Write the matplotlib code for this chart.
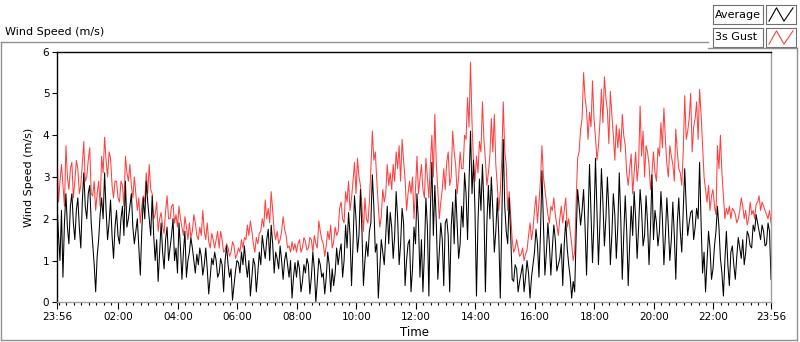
import numpy as np
import matplotlib.pyplot as plt
from matplotlib.lines import Line2D

# readings in minutes after 23:56: one set every 6 min (t = 0, 6, ...),
# a second set between them (t = 3, 9, ...)

# 3s gust (red)
gust_6min = [
    3.5, 2.9, 2.8, 3.75, 2.7, 3.35, 2.9, 3.2, 2.8, 3.85, 3.0, 3.7, 2.55, 2.2, 2.9, 3.5, 3.95, 3.0, 3.45, 2.5,
    2.9, 2.4, 2.8, 3.5, 2.9, 2.8, 3.0, 2.2, 1.9, 2.55, 3.1, 3.3, 2.6, 2.1, 1.7, 2.15, 1.65, 2.55, 2.0, 2.35,
    2.1,
    2.3, 1.8, 2.05, 1.5, 1.55, 2.1, 1.6, 1.8, 2.2, 1.5, 1.45, 1.65, 1.3, 1.7, 1.7, 1.2, 1.4, 1.1, 1.45, 1.05,
    1.3, 1.5, 1.55, 1.85, 1.95, 1.4, 1.55, 1.65, 2.0, 2.45, 2.25, 2.65, 1.7, 1.7, 1.5, 2.05, 1.6, 1.35, 1.45, 1.4,
    1.4, 1.2, 1.55, 1.25, 1.55, 1.2, 1.4, 1.95, 1.5, 1.1, 1.7, 1.85, 1.45, 1.6, 2.25, 2.0, 2.65, 2.9, 2.5, 3.35,
    3.45, 2.8, 1.7, 2.0, 2.4, 4.1, 3.6, 2.3, 2.05, 2.4, 3.3, 3.1, 3.3, 3.6, 3.75, 3.9, 2.95, 2.6, 2.6, 2.0,
    3.5, 2.95, 2.7, 3.45, 2.5, 4.0, 4.5, 2.7, 2.4, 3.2, 3.35, 2.8, 4.1, 3.3, 3.0, 3.2, 4.0, 4.9, 5.75, 3.35,
    3.5, 3.85, 4.8, 3.4, 3.1, 4.4, 4.5, 2.8, 2.65, 4.8, 3.3, 2.65, 1.5, 1.3, 1.3, 1.15, 1.0, 1.25, 1.9, 1.75,
    2.55, 2.4, 3.75, 2.7, 2.1, 2.3, 2.5, 1.85, 2.0, 1.9, 2.5, 2.0, 1.4, 1.2, 3.45, 4.15, 5.5, 4.6, 4.55, 5.3,
    3.95, 3.75, 5.1, 5.4, 4.6, 5.05, 4.0, 4.25, 4.15, 4.5, 3.75, 2.8, 3.55, 3.1, 2.9, 4.7, 4.1, 3.75, 3.3, 3.1,
    3.1, 3.7, 4.3, 4.65, 3.3, 3.75, 3.3, 4.15, 3.2, 2.8, 4.95, 4.1, 5.0, 4.2, 4.8, 5.1, 3.75, 2.7, 2.8, 2.55,
    2.3, 3.75, 4.0, 2.55, 2.25, 2.3, 2.25, 2.1, 2.0, 2.5, 2.0, 1.85, 2.4, 2.2, 2.35, 2.55, 2.4, 2.2, 2.0, 1.9,
]
gust_mid = [
    2.4, 3.3, 2.3, 3.0, 3.2, 2.5, 3.4, 2.6, 3.3, 2.9, 3.4, 2.6, 2.9, 2.6, 2.3, 3.1, 3.4, 3.6, 2.8, 2.9,
    2.5, 2.9, 2.3, 3.1, 3.3, 2.5, 2.6, 2.5, 2.3, 2.4, 2.6, 2.7, 2.0, 2.4, 2.0, 1.8, 2.2, 2.0, 2.3, 1.9,
    1.8, 2.0, 1.6, 1.8, 1.9, 1.7, 1.9, 1.5, 1.6, 1.7, 1.9, 1.3, 1.5, 1.5, 1.3, 1.5, 1.25, 1.3, 1.2, 1.35,
    1.15, 1.2, 1.3, 1.5, 1.6, 1.7, 1.2, 1.4, 1.7, 1.8, 2.0, 1.9, 2.2, 1.5, 1.4, 1.7, 1.75, 1.3, 1.2, 1.25,
    1.2, 1.5, 1.3, 1.45, 1.3, 1.5, 1.6, 1.3, 1.7, 1.4, 1.35, 1.5, 1.3, 1.8, 1.7, 2.4, 1.9, 2.4, 2.2, 2.9,
    2.6, 3.0, 2.3, 2.5, 1.9, 3.2, 3.4, 2.9, 1.8, 2.7, 2.6, 2.8, 2.7, 2.9, 3.2, 2.9, 3.4, 2.2, 2.9, 3.0,
    2.7, 2.6, 3.3, 2.5, 3.0, 3.3, 3.0, 3.3, 2.0, 2.7, 2.7, 3.6, 3.0, 3.6, 2.6, 3.6, 3.2, 3.9, 4.2, 4.3,
    2.9, 3.1, 3.6, 3.9, 2.8, 3.5, 3.6, 3.3, 2.2, 3.4, 3.6, 2.2, 2.1, 1.2, 1.5, 1.1, 1.3, 1.15, 1.6, 1.5,
    2.2, 1.9, 2.9, 3.0, 2.4, 1.9, 2.2, 2.1, 1.6, 2.3, 2.2, 1.8, 1.7, 1.0, 2.4, 3.6, 4.4, 4.9, 3.9, 4.2,
    4.4, 3.4, 4.3, 4.3, 4.9, 3.8, 4.5, 3.4, 3.7, 3.6, 4.0, 3.1, 3.2, 2.6, 3.6, 3.3, 3.5, 3.0, 3.6, 2.7,
    3.6, 2.9, 3.5, 3.7, 3.9, 3.0, 3.5, 2.9, 3.6, 3.1, 3.6, 3.9, 4.4, 3.6, 4.4, 3.9, 4.5, 3.0, 2.4, 2.2,
    2.7, 2.1, 3.2, 3.1, 2.0, 2.1, 2.0, 2.2, 1.9, 2.2, 2.3, 2.2, 2.0, 2.1, 2.0, 2.4, 2.2, 2.3, 2.1, 2.2,
]

# average (black)
average_6min = [
    2.4, 1.0, 0.6, 2.6, 1.4, 2.6, 1.5, 2.5, 1.3, 3.1, 2.0, 2.8, 1.4, 0.25, 1.5, 2.5, 3.1, 1.5, 2.45, 1.05,
    2.2, 1.4, 2.3, 2.9, 2.0, 2.6, 1.4, 2.0, 0.65, 2.5, 2.9, 2.0, 2.55, 1.0, 0.5, 1.9, 0.8, 1.8, 1.3, 2.0,
    1.3,
    1.9, 0.55, 1.7, 1.0, 1.55, 1.0, 1.15, 1.3, 0.65, 1.3, 0.2, 1.05, 1.2, 0.6, 1.05, 0.25, 1.35, 0.6, 0.05, 0.75,
    0.95, 1.2, 1.35, 0.6, 0.15, 1.05, 0.25, 1.2, 1.6, 1.05, 1.75, 1.85, 0.7, 1.05, 1.35, 0.55, 1.2, 0.6, 0.1, 0.95,
    1.0, 0.25, 0.9, 1.05, 0.2, 1.2, 0.0, 1.05, 0.6, 0.2, 1.2, 0.25, 0.4, 1.3, 1.2, 0.6, 1.85, 2.15, 0.4, 2.55,
    1.2, 2.7, 0.4, 1.45, 1.7, 3.05, 1.2, 0.1, 1.5, 0.9, 2.3, 2.15, 1.05, 2.65, 0.9, 2.25, 0.4, 1.4, 0.25, 1.8,
    2.6, 0.6, 0.25, 2.5, 0.15, 3.35, 2.8, 0.55, 1.9, 0.4, 2.0, 0.25, 2.4, 2.7, 1.05, 2.3, 3.1, 1.5, 4.1, 3.4,
    0.15, 2.95, 3.3, 0.25, 2.8, 3.0, 1.2, 2.5, 0.1, 3.9, 1.7, 2.5, 0.55, 0.9, 0.25, 0.7, 0.25, 1.0, 0.1, 0.9,
    1.75, 0.6, 3.15, 0.65, 1.9, 0.65, 1.85, 0.75, 1.05, 0.4, 1.95, 0.9, 0.1, 0.25, 2.7, 1.85, 2.7, 0.65, 3.3, 0.95,
    3.45, 0.9, 3.2, 1.35, 3.0, 0.9, 2.6, 1.05, 3.1, 0.55, 2.55, 0.4, 2.3, 2.65, 1.05, 2.7, 1.35, 2.55, 0.9, 3.05,
    2.2, 1.35, 2.65, 0.9, 2.5, 1.0, 2.4, 0.55, 2.5, 1.2, 3.2, 1.6, 2.15, 1.5, 2.25, 3.35, 0.7, 0.25, 1.7, 0.55,
    1.35, 2.3, 1.05, 0.15, 1.7, 0.4, 1.35, 0.55, 1.55, 1.05, 0.9, 1.7, 1.35, 1.85, 2.1, 1.7, 1.85, 1.35, 1.9, 0.55,
]
average_mid = [
    1.6, 2.2, 1.9, 1.8, 2.3, 1.9, 2.2, 1.8, 2.4, 2.3, 2.6, 1.9, 0.9, 1.1, 2.1, 2.0, 2.2, 1.9, 1.6, 1.8,
    1.6, 2.0, 1.6, 1.8, 2.3, 1.8, 1.7, 1.3, 1.7, 2.0, 2.4, 1.6, 1.6, 1.5, 1.2, 1.2, 1.5, 1.0, 1.6, 1.0,
    0.7, 1.3, 1.2, 0.6, 1.2, 1.3, 0.7, 0.9, 1.1, 0.9, 0.8, 0.6, 0.9, 1.0, 0.7, 0.9, 1.0, 0.9, 0.8, 0.4,
    1.0, 0.7, 0.9, 0.9, 1.0, 0.6, 0.9, 0.7, 0.9, 1.3, 1.5, 1.0, 1.4, 1.2, 0.8, 1.0, 1.0, 0.9, 1.0, 0.6,
    0.6, 0.8, 0.5, 0.7, 0.9, 0.6, 0.8, 0.5, 0.9, 0.7, 0.6, 0.9, 0.8, 0.7, 0.9, 1.4, 1.0, 1.3, 1.6, 1.4,
    2.0, 1.6, 1.7, 1.0, 1.1, 1.9, 2.3, 1.4, 0.8, 1.2, 1.6, 1.4, 1.8, 1.6, 2.0, 1.4, 1.9, 1.0, 1.5, 0.8,
    1.4, 1.9, 1.5, 1.2, 1.8, 2.2, 1.6, 1.9, 1.2, 1.5, 1.9, 1.6, 1.8, 1.4, 1.9, 1.4, 1.8, 2.6, 2.9, 2.6,
    2.2, 1.9, 2.2, 2.3, 1.9, 2.0, 2.2, 1.7, 1.6, 1.9, 2.3, 1.4, 1.6, 0.5, 0.8, 0.5, 0.9, 0.6, 0.7, 0.6,
    1.2, 1.4, 1.6, 1.9, 1.2, 1.4, 1.3, 1.5, 0.9, 1.4, 1.4, 1.3, 0.6, 0.5, 1.6, 2.3, 2.2, 1.8, 2.0, 2.1,
    1.9, 2.2, 1.9, 2.4, 2.0, 2.2, 1.6, 2.1, 1.8, 2.0, 1.6, 1.7, 1.4, 1.6, 2.0, 1.8, 2.2, 1.6, 1.9, 1.8,
    1.5, 1.9, 1.7, 2.0, 1.6, 1.8, 1.5, 1.6, 1.9, 1.7, 2.2, 2.3, 1.9, 2.2, 1.8, 2.0, 1.9, 1.2, 1.0, 1.3,
    0.8, 1.7, 1.8, 0.7, 1.0, 0.9, 1.2, 0.9, 1.1, 1.3, 1.5, 1.2, 1.6, 1.3, 1.7, 1.9, 1.5, 1.7, 1.4, 1.7,
]

tick_labels = ['23:56', '02:00', '04:00', '06:00', '08:00', '10:00', '12:00',
               '14:00', '16:00', '18:00', '20:00', '22:00', '23:56']
tick_minutes = [0, 124, 244, 364, 484, 604, 724, 844, 964, 1084, 1204, 1324, 1440]

GUST_COLOR = '#ff4040'
FRAME = '#909090'
plt.rcParams['font.family'] = 'DejaVu Sans'


def merge(on_grid, between):
    # put the two reading sets back in time order
    t = np.concatenate([np.arange(len(on_grid)) * 6, np.arange(len(between)) * 6 + 3])
    v = np.concatenate([on_grid, between])
    order = np.argsort(t)
    return t[order], v[order]


t_gust, gust = merge(gust_6min, gust_mid)
t_avg, average = merge(average_6min, average_mid)

W, H = 800, 342
fig = plt.figure(figsize=(W / 100, H / 100), dpi=100)


def fx(px):
    return px / W


def fy(py):
    return 1 - py / H


# outer LabVIEW style frame
fig.add_artist(Line2D([fx(1), fx(708)], [fy(42), fy(42)], color=FRAME, lw=1))
fig.add_artist(Line2D([fx(708), fx(797)], [fy(48), fy(48)], color=FRAME, lw=1))
fig.add_artist(Line2D([fx(1), fx(1)], [fy(42), fy(340)], color=FRAME, lw=1))
fig.add_artist(Line2D([fx(1), fx(797)], [fy(340), fy(340)], color=FRAME, lw=1))
fig.add_artist(Line2D([fx(797), fx(797)], [fy(48), fy(340)], color=FRAME, lw=1))

fig.text(fx(5), fy(32), 'Wind Speed (m/s)', fontsize=8, ha='left', va='center')

ax = fig.add_axes([fx(57), fy(302.3), fx(714), (302.3 - 51.7) / H])
ax.plot(t_gust, gust, color=GUST_COLOR, lw=0.75)
ax.plot(t_avg, average, color='black', lw=0.75)

ax.set_xlim(0, 1440)
ax.set_ylim(0, 6)
ax.set_yticks(range(7))
ax.set_xticks(tick_minutes)
ax.set_xticklabels(tick_labels)
ax.set_xticks(np.arange(4, 1440, 15), minor=True)
ax.tick_params(axis='both', labelsize=7.5, direction='out', width=0.8, colors='black')
ax.tick_params(axis='x', which='major', length=5, pad=2)
ax.tick_params(axis='x', which='minor', length=2.5, width=0.8)
ax.tick_params(axis='y', length=3.5, pad=2)
for side in ['top', 'left']:
    ax.spines[side].set_color('black')
    ax.spines[side].set_linewidth(1)
for side in ['bottom', 'right']:
    ax.spines[side].set_color('#a0a0a0')
    ax.spines[side].set_linewidth(1)

ax.set_ylabel('Wind Speed (m/s)', fontsize=8, labelpad=6)
ax.set_xlabel('Time', fontsize=8.5, labelpad=3)

# legend boxes, top right
legend_items = [('Average', 'black', 5), ('3s Gust', GUST_COLOR, 28)]
for name, color, top in legend_items:
    box = fig.add_axes([fx(713), fy(top + 19), fx(50), 19 / H])
    box.set_xticks([])
    box.set_yticks([])
    for s in box.spines.values():
        s.set_color('#707070')
        s.set_linewidth(0.8)
    box.text(0.04, 0.5, name, fontsize=8, ha='left', va='center', transform=box.transAxes)

    icon = fig.add_axes([fx(766), fy(top + 19), fx(30), 19 / H])
    icon.set_xticks([])
    icon.set_yticks([])
    for s in icon.spines.values():
        s.set_color('#707070')
        s.set_linewidth(0.8)
    icon.plot([0.1, 0.35, 0.6, 0.9], [0.15, 0.85, 0.15, 0.85], color=color, lw=0.8)
    icon.set_xlim(0, 1)
    icon.set_ylim(0, 1)

fig.savefig('out.png', dpi=100)
